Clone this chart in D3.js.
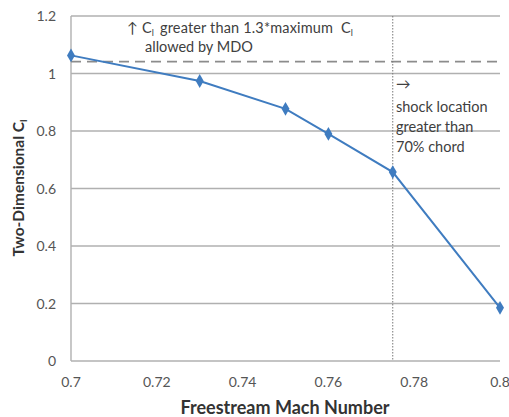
<!DOCTYPE html>
<html><head><meta charset="utf-8">
<script src="https://cdn.jsdelivr.net/npm/d3@7"></script>
<style>body{margin:0;background:#fff;}text{font-family:Lato,"Open Sans",sans-serif;}</style>
</head><body>
<svg id="c" width="509" height="417"></svg>
<script>
const mach = [0.7, 0.73, 0.75, 0.76, 0.775, 0.8];
const cl = [1.063, 0.974, 0.877, 0.79, 0.657, 0.185];
const xTicks = [0.7, 0.72, 0.74, 0.76, 0.78, 0.8];
const yTicks = [0, 0.2, 0.4, 0.6, 0.8, 1, 1.2];
const mdoLimit = 1.041;
const shockMach = 0.775;

const svg = d3.select("#c");
const x = d3.scaleLinear().domain([0.7, 0.8]).range([71, 500]);
const y = d3.scaleLinear().domain([0, 1.2]).range([361, 16]);

// gridlines
svg.append("g").selectAll("line").data(yTicks).join("line")
  .attr("x1", x(0.7)).attr("x2", x(0.8))
  .attr("y1", d => y(d)).attr("y2", d => y(d))
  .attr("stroke", "#b0b0b0").attr("stroke-width", 1.4);
// left axis line
svg.append("line").attr("x1", x(0.7)).attr("x2", x(0.7)).attr("y1", y(0)).attr("y2", y(1.2))
  .attr("stroke", "#b0b0b0").attr("stroke-width", 1.4);

// y tick labels
svg.append("g").selectAll("text").data(yTicks).join("text")
  .attr("x", 56).attr("y", d => y(d) + 5).attr("text-anchor", "end")
  .attr("font-size", 14).attr("fill", "#555").text(d => d);
// x tick labels
svg.append("g").selectAll("text").data(xTicks).join("text")
  .attr("x", d => x(d)).attr("y", 387).attr("text-anchor", "middle")
  .attr("font-size", 14).attr("fill", "#555").text(d => d);

// axis titles
svg.append("text").attr("x", 285).attr("y", 414).attr("text-anchor", "middle")
  .attr("font-size", 18).attr("font-weight", "bold").attr("fill", "#333").text("Freestream Mach Number");
const yt = svg.append("text").attr("transform", "translate(24,188) rotate(-90)").attr("text-anchor", "middle")
  .attr("font-size", 15.5).attr("font-weight", "bold").attr("fill", "#333");
yt.append("tspan").text("Two-Dimensional C");
yt.append("tspan").attr("font-size", 10).attr("dy", 3).text("l");

// dashed limit
svg.append("line").attr("x1", x(0.7)).attr("x2", x(0.8)).attr("y1", y(mdoLimit)).attr("y2", y(mdoLimit))
  .attr("stroke", "#8c8c8c").attr("stroke-width", 1.8).attr("stroke-dasharray", "10,6");
// dotted shock line
svg.append("line").attr("x1", x(shockMach)).attr("x2", x(shockMach)).attr("y1", y(1.2)).attr("y2", y(0))
  .attr("stroke", "#777").attr("stroke-width", 1).attr("stroke-dasharray", "1.5,1.5");

// series
const line = d3.line().x((d, i) => x(mach[i])).y(d => y(d));
svg.append("path").datum(cl).attr("d", line).attr("fill", "none")
  .attr("stroke", "#3f7cc0").attr("stroke-width", 2);
svg.append("g").selectAll("path").data(cl).join("path")
  .attr("transform", (d, i) => `translate(${x(mach[i])},${y(d)})`)
  .attr("d", d3.symbol().type(d3.symbolDiamond).size(55))
  .attr("fill", "#3f7cc0");

// annotations
const a1 = svg.append("text").attr("y", 33).attr("font-size", 14.5).attr("fill", "#404040");
a1.append("tspan").attr("x", 127).text("↑");
a1.append("tspan").attr("x", 142).text("C");
a1.append("tspan").attr("font-size", 9).attr("dy", 3).text("l");
a1.append("tspan").attr("x", 160).attr("dy", -3).attr("textLength", 173).attr("lengthAdjust", "spacing").text("greater than 1.3*maximum");
a1.append("tspan").attr("x", 341).text("C");
a1.append("tspan").attr("font-size", 9).attr("dy", 3).text("l");
svg.append("text").attr("x", 145).attr("y", 52).attr("font-size", 14.5).attr("fill", "#404040").text("allowed by MDO");

const notes = ["→", "shock location", "greater than", "70% chord"];
const noteY = [89, 112, 132, 152];
svg.append("g").selectAll("text").data(notes).join("text")
  .attr("x", 396).attr("y", (d, i) => noteY[i]).attr("font-size", 14.5).attr("fill", "#404040").text(d => d);
</script>
</body></html>
